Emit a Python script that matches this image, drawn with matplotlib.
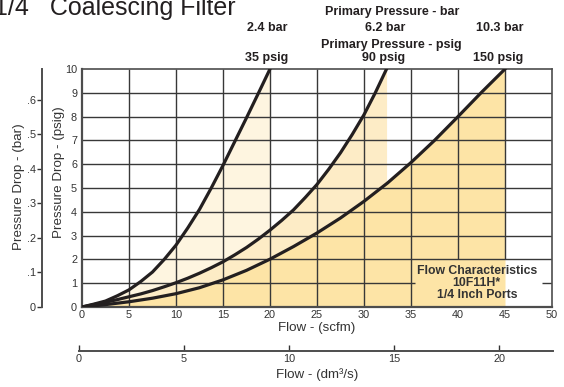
import matplotlib
matplotlib.use("Agg")
import matplotlib.pyplot as plt

plt.rcParams['font.family'] = ['Liberation Sans', 'DejaVu Sans']

# ---- data ----
flow35 = [0, 1.25, 2.5, 3.75, 5, 6.25, 7.5, 8.75, 10, 11.25, 12.5, 13.75,
          15, 16.25, 17.5, 18.75, 20]
dp35 = [0, 0.12, 0.25, 0.47, 0.72, 1.07, 1.47, 2.0, 2.6, 3.32, 4.1, 5.0,
        5.95, 6.95, 7.95, 8.97, 10.0]

flow90 = [0, 1.25, 2.5, 3.75, 5, 6.25, 7.5, 8.75, 10, 11.25, 12.5, 13.75,
          15, 16.25, 17.5, 18.75, 20, 21.25, 22.5, 23.75, 25, 26.25, 27.5,
          28.75, 30, 31.2, 32.4]
dp90 = [0, 0.1, 0.2, 0.31, 0.43, 0.55, 0.69, 0.85, 1.02, 1.21, 1.42, 1.65,
        1.9, 2.19, 2.5, 2.85, 3.23, 3.64, 4.08, 4.6, 5.15, 5.79, 6.48, 7.25,
        8.08, 9.0, 10.0]

flow150 = [0, 2.5, 5, 7.5, 10, 12.5, 15, 17.5, 20, 22.5, 25, 27.5, 30, 32.5,
           35, 37.5, 40, 42.5, 45]
dp150 = [0, 0.1, 0.22, 0.37, 0.56, 0.81, 1.14, 1.54, 2.01, 2.54, 3.11, 3.74,
         4.44, 5.21, 6.07, 7.0, 8.0, 9.02, 10.0]

scfm_ticks = [0, 5, 10, 15, 20, 25, 30, 35, 40, 45, 50]
psig_ticks = [0, 1, 2, 3, 4, 5, 6, 7, 8, 9, 10]
bar_ticks = [0, 0.1, 0.2, 0.3, 0.4, 0.5, 0.6]
bar_labels = ['0', '.1', '.2', '.3', '.4', '.5', '.6']
dm3_ticks = [0, 5, 10, 15, 20]
psig_to_bar = 0.0689476
dm3_max = 22.57

bar_names = ['2.4 bar', '6.2 bar', '10.3 bar']
psig_names = ['35 psig', '90 psig', '150 psig']

# ---- figure ----
W, H = 564, 387
fig = plt.figure(figsize=(W / 100, H / 100), dpi=100)


def fx(px):
    return px / W


def fy(py):
    return 1 - py / H


ink = '#231f20'
gridc = '#383838'
spinec = '#4d4d4d'

ax = fig.add_axes([fx(82), fy(307), 470 / W, 238 / H])
ax.set_xlim(0, 50)
ax.set_ylim(0, 10)

ax.fill_between(flow35, dp35, 0, color='#fef5e0', lw=0, zorder=1)
ax.fill_between(flow90, dp90, 0, color='#fdecc6', lw=0, zorder=1.1)
ax.fill_between(flow150, dp150, 0, color='#fde4a6', lw=0, zorder=1.2)

# grid (with a gap behind the caption box)
for xv in scfm_ticks[1:-1]:
    if xv in (40, 45):
        ax.vlines(xv, 2, 10, color=gridc, lw=1.0, zorder=2)
    else:
        ax.vlines(xv, 0, 10, color=gridc, lw=1.0, zorder=2)
for yv in psig_ticks[1:-1]:
    if yv == 1:
        ax.hlines(yv, 0, 35.4, color=gridc, lw=1.0, zorder=2)
        ax.hlines(yv, 48.9, 50, color=gridc, lw=1.0, zorder=2)
    else:
        ax.hlines(yv, 0, 50, color=gridc, lw=1.0, zorder=2)

for fl, dp in ((flow35, dp35), (flow90, dp90), (flow150, dp150)):
    ax.plot(fl, dp, color=ink, lw=2.3, zorder=3, solid_joinstyle='round')

for s in ax.spines.values():
    s.set_color(spinec)
    s.set_linewidth(1.2)
ax.spines['left'].set_linewidth(1.6)
ax.spines['bottom'].set_linewidth(1.6)

ax.set_xticks(scfm_ticks)
ax.set_yticks(psig_ticks)
ax.tick_params(axis='both', length=0, labelsize=7.8, colors='#333333')
ax.tick_params(axis='x', pad=2.2)
ax.tick_params(axis='y', pad=3.6)
ax.set_xlabel('Flow - (scfm)', fontsize=9.6, color='#333333')
ax.xaxis.set_label_coords(317 / W, fy(328), transform=fig.transFigure)
ax.set_ylabel('Pressure Drop - (psig)', fontsize=9.6, color='#333333')
ax.yaxis.set_label_coords(fx(59), fy(172), transform=fig.transFigure)
ax.xaxis.label.set_va('center')
ax.yaxis.label.set_va('center')

ax.text(42.0, 1.0, 'Flow Characteristics\n10F11H*\n1/4 Inch Ports',
        ha='center', va='center', fontsize=8.8, fontweight='bold',
        color='#333333', linespacing=1.0, zorder=4)

# ---- bar axis on the far left ----
axb = fig.add_axes([fx(42), fy(307), 0.0005, 238 / H])
axb.set_ylim(0, 10 * psig_to_bar)
axb.patch.set_visible(False)
for k in ('top', 'right', 'bottom'):
    axb.spines[k].set_visible(False)
axb.spines['left'].set_color(spinec)
axb.spines['left'].set_linewidth(1.4)
axb.set_xticks([])
axb.set_yticks(bar_ticks)
axb.set_yticklabels(bar_labels)
axb.tick_params(axis='y', length=3.5, width=1, colors='#333333',
                labelsize=7.8, pad=1)
axb.set_ylabel('Pressure Drop - (bar)', fontsize=9.6, color='#333333')
axb.yaxis.set_label_coords(fx(19), fy(187), transform=fig.transFigure)
axb.yaxis.label.set_va('center')

# ---- dm3/s axis at the bottom ----
axd = fig.add_axes([fx(79), fy(351), (553 - 79) / W, 0.0005])
axd.set_xlim(0, dm3_max)
axd.patch.set_visible(False)
for k in ('top', 'right', 'left'):
    axd.spines[k].set_visible(False)
axd.spines['bottom'].set_color(spinec)
axd.spines['bottom'].set_linewidth(1.4)
axd.set_yticks([])
axd.set_xticks(dm3_ticks)
axd.tick_params(axis='x', direction='in', length=4, width=1,
                colors='#333333', labelsize=7.8, pad=2.5)
fig.text(fx(317), fy(375), 'Flow - (dm\u00b3/s)', ha='center', va='center',
         fontsize=9.6, color='#333333')
fig.text(fx(336), fy(392), 'n', ha='center', va='center', fontsize=7,
         color='#333333')

# ---- header texts ----
fig.text(fx(-6), fy(15), '1/4   Coalescing Filter', ha='left',
         va='baseline', fontsize=18, color=ink)
fig.text(fx(392), fy(12), 'Primary Pressure - bar', ha='center', va='center',
         fontsize=9, fontweight='bold', color=ink)
fig.text(fx(391), fy(45), 'Primary Pressure - psig', ha='center', va='center',
         fontsize=9, fontweight='bold', color=ink)
for name, xp in zip(bar_names, (267, 385, 500)):
    fig.text(fx(xp), fy(28), name, ha='center', va='center', fontsize=9,
             fontweight='bold', color=ink)
for name, xp in zip(psig_names, (267, 384, 498)):
    fig.text(fx(xp), fy(58), name, ha='center', va='center', fontsize=9,
             fontweight='bold', color=ink)

fig.savefig('out.png', dpi=100)
